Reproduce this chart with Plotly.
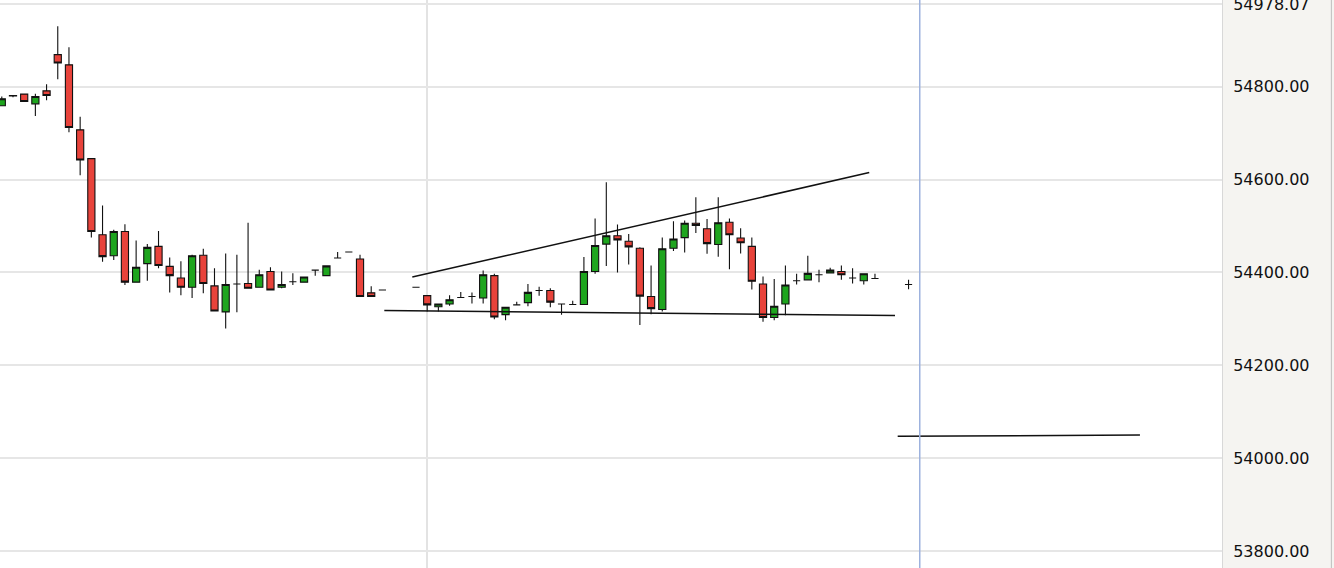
import plotly.graph_objects as go

# ---- data (bar index, open, high, low, close) ----
idx = list(range(0, 35)) + list(range(37, 79)) + [81]
opens = [54759, 54781, 54784, 54763, 54791, 54869, 54847, 54707, 54645, 54481,
         54436, 54488, 54379, 54419, 54456, 54413, 54388, 54368, 54437, 54371,
         54315, 54375, 54376, 54368, 54402, 54368, 54380, 54379, 54405, 54393,
         54431, 54444, 54429, 54356, 54362,
         54368, 54350, 54326, 54332, 54346, 54348, 54345, 54393, 54309, 54330,
         54335, 54361, 54361, 54332, 54331, 54331, 54402, 54461, 54479, 54467,
         54452, 54348, 54320, 54452, 54475, 54506, 54494, 54460, 54508, 54474,
         54456, 54375, 54303, 54332, 54382, 54384, 54395, 54399, 54402, 54388,
         54382, 54387,
         54374]
highs = [54779, 54782, 54784, 54785, 54805, 54930, 54885, 54735, 54645, 54544,
         54492, 54504, 54469, 54461, 54489, 54432, 54424, 54438, 54451, 54409,
         54441, 54438, 54507, 54406, 54411, 54402, 54398, 54390, 54405, 54414,
         54444, 54444, 54438, 54370, 54362,
         54368, 54350, 54332, 54351, 54358, 54357, 54404, 54397, 54325, 54337,
         54375, 54369, 54366, 54332, 54339, 54433, 54516, 54594, 54503, 54483,
         54454, 54415, 54475, 54510, 54512, 54562, 54515, 54562, 54516, 54495,
         54475, 54391, 54386, 54415, 54397, 54436, 54406, 54410, 54415, 54409,
         54397, 54397,
         54384]
lows = [54759, 54777, 54768, 54737, 54771, 54816, 54702, 54609, 54475, 54423,
        54427, 54373, 54379, 54382, 54409, 54357, 54351, 54345, 54355, 54317,
        54279, 54314, 54366, 54368, 54362, 54366, 54373, 54379, 54393, 54393,
        54431, 54444, 54348, 54348, 54362,
        54368, 54316, 54316, 54328, 54346, 54333, 54333, 54299, 54297, 54330,
        54327, 54350, 54325, 54309, 54331, 54331, 54397, 54414, 54400, 54417,
        54287, 54310, 54316, 54446, 54443, 54485, 54440, 54434, 54407, 54441,
        54363, 54294, 54297, 54308, 54374, 54384, 54379, 54399, 54384, 54376,
        54374, 54387,
        54364]
closes = [54774, 54780, 54768, 54779, 54781, 54851, 54712, 54642, 54488, 54434,
          54488, 54379, 54411, 54454, 54415, 54393, 54368, 54436, 54376, 54317,
          54374, 54375, 54366, 54395, 54362, 54374, 54380, 54390, 54405, 54414,
          54431, 54444, 54348, 54348, 54362,
          54368, 54330, 54332, 54341, 54346, 54348, 54395, 54304, 54325, 54330,
          54357, 54361, 54336, 54332, 54331, 54402, 54458, 54479, 54470, 54455,
          54349, 54322, 54451, 54472, 54506, 54501, 54462, 54507, 54481, 54464,
          54381, 54303, 54327, 54373, 54382, 54398, 54395, 54405, 54395, 54388,
          54397, 54387,
          54374]

# drawn trend lines: (x0, y0, x1, y1) in bar index / price
upper_trend = [36.67, 54390, 77.49, 54615]
lower_trend = [34.17, 54318, 79.79, 54307]
target_line = [80.03, 54047, 101.67, 54050]
cursor_bar = 82
session_bar = 38

y_ticks = [53800, 54000, 54200, 54400, 54600, 54800, 54978.07]
y_tick_text = ["%.2f" % v for v in y_ticks]

RED = "#e8433b"
GREEN = "#1ea51e"

fig = go.Figure()
fig.add_trace(go.Candlestick(
    x=idx, open=opens, high=highs, low=lows, close=closes,
    increasing=dict(fillcolor=GREEN, line=dict(color="#111111", width=1.1)),
    decreasing=dict(fillcolor=RED, line=dict(color="#111111", width=1.1)),
    whiskerwidth=0,
    showlegend=False,
    hoverinfo="skip",
))

for seg in (upper_trend, lower_trend, target_line):
    fig.add_shape(type="line", xref="x", yref="y",
                  x0=seg[0], y0=seg[1], x1=seg[2], y1=seg[3],
                  line=dict(color="#111111", width=1.5))

fig.add_shape(type="line", xref="x", yref="paper",
              x0=cursor_bar, x1=cursor_bar, y0=0, y1=1,
              line=dict(color="#9db2de", width=1.5))

# right border of the price panel
fig.add_shape(type="line", xref="paper", yref="paper",
              x0=1.0895, x1=1.0895, y0=0, y1=1,
              line=dict(color="#bdbdbd", width=1))

fig.update_layout(
    width=1334, height=568,
    margin=dict(l=0, r=112, t=0, b=0),
    paper_bgcolor="#f5f4f1",
    plot_bgcolor="#ffffff",
    boxgap=0.2, boxgroupgap=0.2,
    showlegend=False,
    xaxis=dict(
        range=[-0.16, 109.0],
        rangeslider=dict(visible=False),
        tickvals=[session_bar],
        showticklabels=False,
        ticks="",
        showgrid=True, gridcolor="#e3e3e3", gridwidth=1.5,
        zeroline=False, showline=False,
    ),
    yaxis=dict(
        side="right",
        range=[53763.4, 54986.7],
        tickvals=y_ticks, ticktext=y_tick_text,
        ticks="",
        ticklabelstandoff=7,
        ticklabeloverflow="allow",
        tickfont=dict(family="DejaVu Sans", size=16, color="#111111"),
        showgrid=True, gridcolor="#e6e6e6", gridwidth=1.5,
        zeroline=False,
        showline=True, linecolor="#d8d8d8", linewidth=1,
        automargin=False,
    ),
)

fig.write_html("out.html", config={"displayModeBar": False},
               post_script="document.body.style.margin='0';document.body.style.overflow='hidden';")
